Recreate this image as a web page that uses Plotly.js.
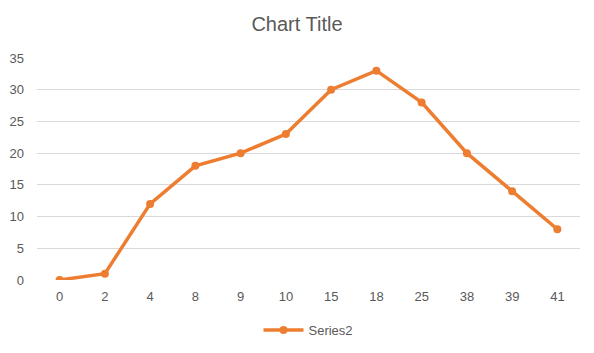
<!DOCTYPE html>
<html>
<head>
<meta charset="utf-8">
<script src="https://cdn.plot.ly/plotly-3.0.1.min.js"></script>
<style>html,body{margin:0;padding:0;background:#fff;}#chart{width:594px;height:353px;}</style>
</head>
<body>
<div id="chart"></div>
<script>
const categories = ["0","2","4","8","9","10","15","18","25","38","39","41"];
const series2 = [0,1,12,18,20,23,30,33,28,20,14,8];
const yTicks = [0,5,10,15,20,25,30,35];

const trace = {
  type: 'scatter',
  mode: 'lines+markers',
  name: 'Series2',
  x: categories,
  y: series2,
  line: {color: '#ED7D31', width: 3.5},
  marker: {color: '#ED7D31', size: 8}
};

const layout = {
  width: 594, height: 353,
  margin: {l: 37, r: 14, t: 58, b: 73},
  paper_bgcolor: '#ffffff', plot_bgcolor: '#ffffff',
  font: {family: 'Liberation Sans, Arial, sans-serif', color: '#595959', size: 13},
  title: {text: 'Chart Title', font: {size: 20, color: '#595959'}, x: 0.5, xanchor: 'center', y: 0.932, yanchor: 'middle'},
  xaxis: {type: 'category', range: [-0.5, 11.5], showgrid: false, zeroline: false, showline: false, ticks: '', tickfont: {size: 13, color: '#595959'}, ticklabelstandoff: 7, fixedrange: true},
  yaxis: {range: [0, 35], tickvals: yTicks, showgrid: true, gridcolor: '#d9d9d9', gridwidth: 1, zeroline: false, showline: false, ticks: '', tickfont: {size: 13, color: '#595959'}, ticklabelstandoff: 12, fixedrange: true},
  showlegend: true,
  legend: {orientation: 'h', x: 0.5, xanchor: 'center', yref: 'container', y: 0.065, yanchor: 'middle', font: {size: 13, color: '#595959'}, itemwidth: 40}
};

Plotly.newPlot('chart', [trace], layout, {displayModeBar: false, staticPlot: true});
</script>
</body>
</html>
